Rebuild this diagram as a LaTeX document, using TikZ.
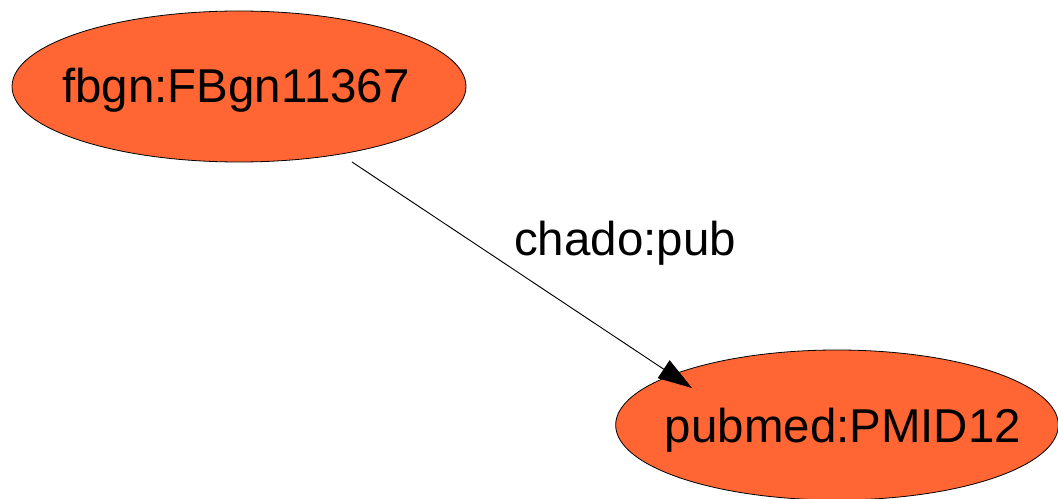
\documentclass[tikz,border=0pt]{standalone}
\usepackage{fontspec}
\setmainfont{Liberation Sans}
\usetikzlibrary{shapes.geometric,arrows.meta}
\definecolor{nodefill}{RGB}{255,102,51}
\tikzset{
  entity/.style={ellipse, draw=black, line width=0.6pt, fill=nodefill, inner sep=0pt},
  txt/.style={font=\fontsize{35.6}{40}\selectfont, inner sep=0pt, anchor=base},
  edge/.style={line width=0.7pt, -{Triangle[length=25.5pt,width=16pt]}}
}
\begin{document}
\begin{tikzpicture}[x=0.75pt,y=-0.75pt]
\useasboundingbox (0,0) rectangle (1058,499);
\node[entity, minimum width=340.5pt, minimum height=113.25pt] (e1) at (239,86.5) {};
\node[entity, minimum width=332pt, minimum height=112.5pt] (e2) at (837,425) {};
\node[txt] (t1) at (236,102.5) {fbgn:FBgn11367};
\node[txt] (t2) at (843,442) {pubmed:PMID12};
\coordinate (a1) at (352,162);
\coordinate (a2) at (692,388);
\draw[edge] (a1) -- (a2);
\node[txt] (lbl) at (625,256) {chado:pub};
\end{tikzpicture}
\end{document}
